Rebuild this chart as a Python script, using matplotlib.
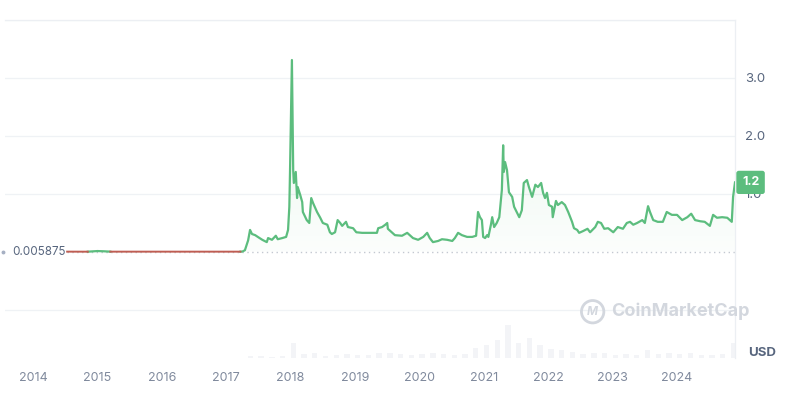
import numpy as np
import matplotlib
matplotlib.use('Agg')
import matplotlib.pyplot as plt
import matplotlib.transforms as mtransforms
from matplotlib.patches import Polygon

plt.rcParams['font.family'] = ['Inter', 'DejaVu Sans']

BASE = 0.005875
LAST_LABEL = '1.2'

# price history (decimal year, USD)
dates = [2014.53, 2014.70, 2014.85, 2014.93, 2015.00, 2015.10, 2015.20, 2015.35, 2015.50,
         2015.70, 2015.90, 2016.10, 2016.30, 2016.50, 2016.70, 2016.90, 2017.10, 2017.22,
         2017.25, 2017.29, 2017.34, 2017.37, 2017.40, 2017.45, 2017.49, 2017.56, 2017.63,
         2017.65, 2017.71, 2017.77, 2017.80, 2017.87, 2017.93, 2017.96, 2017.98, 2017.99,
         2018.02, 2018.04, 2018.05, 2018.08, 2018.10, 2018.11, 2018.15, 2018.18, 2018.19,
         2018.25, 2018.29, 2018.32, 2018.35, 2018.41, 2018.46, 2018.50, 2018.57, 2018.61,
         2018.64, 2018.69, 2018.73, 2018.77, 2018.80, 2018.86, 2018.89, 2018.97, 2019.02,
         2019.11, 2019.16, 2019.26, 2019.34, 2019.36, 2019.42, 2019.47, 2019.50, 2019.51,
         2019.57, 2019.62, 2019.73, 2019.81, 2019.85, 2019.90, 2019.98, 2020.06, 2020.12,
         2020.16, 2020.21, 2020.29, 2020.35, 2020.43, 2020.51, 2020.55, 2020.60, 2020.66,
         2020.74, 2020.82, 2020.88, 2020.91, 2020.94, 2020.97, 2020.99, 2021.02, 2021.05,
         2021.07, 2021.11, 2021.13, 2021.16, 2021.20, 2021.24, 2021.28, 2021.30, 2021.31,
         2021.33, 2021.36, 2021.39, 2021.44, 2021.47, 2021.52, 2021.55, 2021.59, 2021.62,
         2021.67, 2021.70, 2021.75, 2021.80, 2021.84, 2021.89, 2021.92, 2021.95, 2021.98,
         2022.01, 2022.06, 2022.07, 2022.12, 2022.15, 2022.21, 2022.26, 2022.31, 2022.37,
         2022.40, 2022.45, 2022.48, 2022.54, 2022.61, 2022.65, 2022.73, 2022.77, 2022.82,
         2022.87, 2022.93, 2023.01, 2023.08, 2023.16, 2023.22, 2023.27, 2023.32, 2023.38,
         2023.46, 2023.50, 2023.55, 2023.58, 2023.63, 2023.70, 2023.78, 2023.84, 2023.92,
         2024.00, 2024.08, 2024.16, 2024.22, 2024.28, 2024.36, 2024.43, 2024.51, 2024.56,
         2024.62, 2024.70, 2024.78, 2024.85, 2024.87, 2024.90]
prices = [0.0058, 0.0055, 0.0052, 0.010, 0.016, 0.012, 0.0057, 0.0056, 0.0054,
          0.0050, 0.0048, 0.0052, 0.0055, 0.0053, 0.0051, 0.0050, 0.0054, 0.0056,
          0.007, 0.03, 0.20, 0.38, 0.31, 0.29, 0.26, 0.21, 0.17,
          0.24, 0.21, 0.28, 0.22, 0.24, 0.26, 0.38, 0.78, 1.36,
          3.31, 1.41, 1.19, 1.38, 0.93, 1.12, 0.98, 0.86, 0.69,
          0.55, 0.50, 0.93, 0.84, 0.69, 0.59, 0.50, 0.47, 0.34,
          0.31, 0.34, 0.55, 0.50, 0.45, 0.52, 0.43, 0.41, 0.34,
          0.33, 0.33, 0.33, 0.33, 0.41, 0.43, 0.47, 0.50, 0.40,
          0.34, 0.29, 0.28, 0.33, 0.29, 0.24, 0.21, 0.26, 0.33,
          0.24, 0.17, 0.19, 0.22, 0.21, 0.19, 0.24, 0.33, 0.29,
          0.26, 0.26, 0.28, 0.69, 0.60, 0.55, 0.26, 0.24, 0.29,
          0.26, 0.47, 0.60, 0.43, 0.50, 0.60, 1.07, 1.84, 1.38,
          1.55, 1.41, 1.03, 0.95, 0.78, 0.67, 0.60, 0.72, 1.19,
          1.24, 1.12, 0.95, 1.16, 1.12, 1.19, 1.02, 0.93, 1.02,
          0.81, 0.78, 0.60, 0.88, 0.81, 0.86, 0.81, 0.69, 0.52,
          0.41, 0.38, 0.33, 0.36, 0.40, 0.34, 0.43, 0.52, 0.50,
          0.40, 0.41, 0.34, 0.43, 0.40, 0.50, 0.52, 0.47, 0.50,
          0.55, 0.50, 0.79, 0.69, 0.55, 0.52, 0.52, 0.69, 0.64,
          0.64, 0.55, 0.60, 0.66, 0.55, 0.53, 0.52, 0.45, 0.64,
          0.59, 0.60, 0.59, 0.52, 0.95, 1.20]

# volume, billions USD, every two months from mid 2014
vol_start = 2014.5
volumes = [0.01, 0.01, 0.02,
           0.05, 0.02, 0.01, 0.01, 0.01, 0.01,
           0.01, 0.01, 0.01, 0.02, 0.01, 0.01,
           0.02, 0.05, 0.6, 0.8, 0.4, 0.6,
           6.0, 1.5, 1.8, 0.8, 1.2, 1.5,
           1.0, 1.2, 2.0, 1.8, 1.4, 1.3,
           1.6, 1.8, 1.5, 1.3, 1.5, 4.0,
           5.0, 7.0, 13.0, 6.0, 8.0, 5.0,
           3.5, 3.0, 2.5, 1.5, 2.0, 1.8,
           1.2, 1.5, 1.2, 3.0, 1.5, 1.8,
           1.5, 1.8, 1.3, 1.3, 1.5, 6.0]
years = list(range(2014, 2025))

GREEN = '#5cbd7e'
RED = '#bf5d52'
GRID = '#eff2f5'
TXT = '#58667e'

dates = np.array(dates)
prices = np.array(prices)
vol_x = vol_start + np.arange(len(volumes)) / 6

# green hides where a point and both neighbours sit below the start price
below = prices <= BASE
prev_below = np.r_[True, below[:-1]]
next_below = np.r_[below[1:], True]
green_line = np.ma.masked_where(below & prev_below & next_below, prices)
red_line = np.ma.masked_where(~below, prices)

x0, x1 = 2013.565, 2024.90
fig = plt.figure(figsize=(8, 4.04), dpi=100)
rect = [5 / 800, 1 - 358 / 404, 730 / 800, 338 / 404]

axv = fig.add_axes(rect, zorder=0)
axv.bar(vol_x, volumes, width=1 / 12, align='edge', color='#f3f4f7', linewidth=0)
axv.set_xlim(x0, x1)
axv.set_ylim(0, 133)
axv.axis('off')

ax = fig.add_axes(rect, zorder=1)
ax.patch.set_alpha(0)
ax.set_xlim(x0, x1)
ax.set_ylim(-1.828, 4.0)

for g in [-1, 1, 2, 3, 4]:
    ax.axhline(g, color=GRID, lw=0.9, zorder=0)

# gradient fill under the price line
top = np.maximum(prices, BASE)
verts = np.column_stack([np.r_[dates, dates[::-1]], np.r_[top, np.full(len(dates), BASE)]])
clip = Polygon(verts, closed=True, fc='none', ec='none')
ax.add_patch(clip)
grad = np.zeros((256, 1, 4))
grad[..., :3] = matplotlib.colors.to_rgb(GREEN)
grad[..., 3] = np.linspace(0.02, 0.16, 256).reshape(-1, 1)
im = ax.imshow(grad, extent=[dates[0], dates[-1], BASE, prices.max()], origin='lower',
               aspect='auto', zorder=1)
im.set_clip_path(clip)

ax.hlines(BASE, dates[0], x1, colors='#c3c8d1', linestyles=(0, (1, 2.5)), lw=1, zorder=2)
ax.plot(dates, green_line, color=GREEN, lw=1.6, zorder=3, solid_joinstyle='round')
ax.plot(dates, red_line, color=RED, lw=1.4, zorder=4)

trans = mtransforms.blended_transform_factory(ax.transAxes, ax.transData)
ax.text(0.0096, BASE, '0.005875', transform=trans, ha='left', va='center',
        fontsize=8.4, color=TXT)
ax.plot([-0.003], [BASE], marker='o', ms=1.8, color='#a6b0c3', transform=trans,
        clip_on=False)

ax.yaxis.tick_right()
ax.set_yticks([1, 2, 3])
ax.set_yticklabels(['1.0', '2.0', '3.0'])
ax.tick_params(axis='y', length=0, pad=7, labelsize=9.5, labelcolor=TXT)
ax.set_xticks(years)
ax.set_xticklabels([str(y) for y in years])
ax.tick_params(axis='x', length=0, pad=10, labelsize=9, labelcolor='#808a9d')
for s in ['left', 'bottom']:
    ax.spines[s].set_visible(False)
for s in ['top', 'right']:
    ax.spines[s].set_color('#eceff3')
    ax.spines[s].set_linewidth(0.9)

ax.annotate(LAST_LABEL, xy=(1, prices[-1]), xycoords=trans, xytext=(5, 0),
            textcoords='offset points', ha='left', va='center', fontsize=9,
            color='white', fontweight='bold',
            bbox=dict(boxstyle='round,pad=0.45,rounding_size=0.2', fc=GREEN, ec='none'))

ax.text(1.018, -1.75, 'USD', transform=trans, ha='left', va='center', fontsize=9.5,
        color=TXT, fontweight='bold')

# watermark
ax.scatter([0.805], [-1.03], s=260, facecolors='none', edgecolors='#d3d7de', linewidths=2,
           transform=trans, zorder=2)
ax.text(0.805, -1.03, 'M', transform=trans, ha='center', va='center', fontsize=8.5,
        color='#d3d7de', fontweight='bold', style='italic')
ax.text(0.83, -1.03, 'CoinMarketCap', transform=trans, ha='left', va='center',
        fontsize=13, color='#d3d7de', fontweight='bold')

fig.savefig('out.png', dpi=100)
